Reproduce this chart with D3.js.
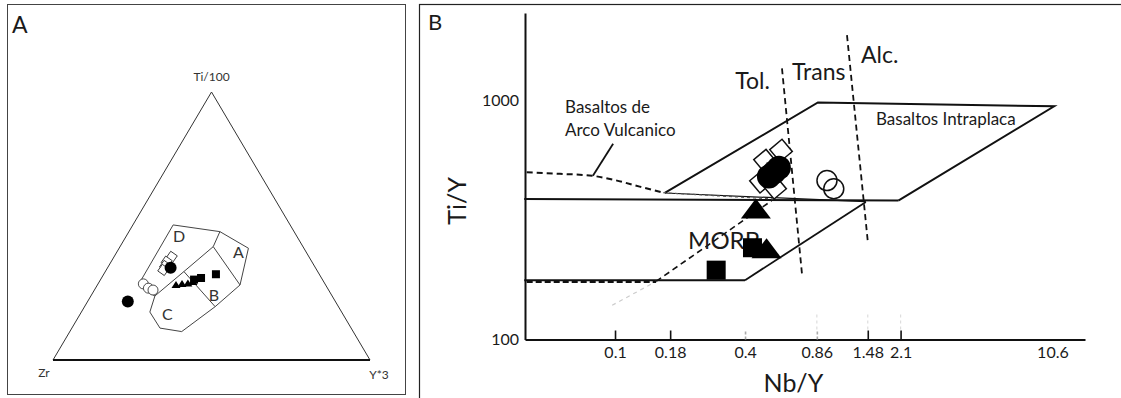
<!DOCTYPE html>
<html lang="en">
<head>
<meta charset="UTF-8">
<title>Ti-Zr-Y y Ti/Y vs Nb/Y</title>
<script src="https://d3js.org/d3.v7.min.js"></script>
<style>
  body { margin: 0; background: #fff; }
  svg { display: block; }
  text { font-family: Lato, "Open Sans", sans-serif; fill: #1a1a1a; }
</style>
</head>
<body>
<div id="chart"></div>
<script>
// ---------- Panel A: ternary Ti/100 - Zr - Y*3, values as [Ti, Zr, Y] in % ----------
const fieldOutline = [
  [50.4, 36.9, 12.7], [47.9, 23.4, 28.7], [41.7, 17.5, 40.8], [28.0, 27.0, 45.0],
  [19.9, 38.9, 41.2], [10.6, 54.1, 35.3], [11.9, 60.3, 27.8], [17.9, 60.5, 21.6],
  [23.9, 55.9, 20.2], [25.4, 57.3, 17.3], [29.1, 58.0, 12.9], [50.4, 36.9, 12.7]
];
const lineDBC = [[23.9, 55.9, 20.2], [33.0, 42.2, 24.8], [42.3, 28.3, 29.4]];
const lineAD = [[42.3, 28.3, 29.4], [47.9, 23.4, 28.7]];
const lineAB = [[42.3, 28.3, 29.4], [28.0, 27.0, 45.0]];
const lineBC = [[33.0, 42.2, 24.8], [19.9, 38.9, 41.2]];
const fieldNames = ["D", "A", "B", "C"];
const fieldLabelPos = [[46.3, 37.1, 16.6], [40.4, 21.3, 38.3], [24.5, 37.0, 38.5], [17.4, 55.2, 27.4]];

const aFilledCircles = [[21.8, 65.5, 12.7], [34.4, 45.7, 19.9]];
const aOpenCircles = [[28.4, 57.3, 14.3], [26.8, 56.5, 16.7], [26.1, 55.4, 18.5]];
const aOpenDiamonds = [[38.5, 43.3, 18.2], [36.7, 45.8, 17.5], [35.1, 47.1, 17.8], [33.6, 48.4, 18.0]];
const aSquares = [[30.6, 38.0, 31.4], [32.0, 32.6, 35.4], [30.0, 40.5, 29.5]];
const aTriangles = [[28.0, 47.2, 24.8], [28.4, 45.1, 26.5], [28.5, 43.2, 28.3], [29.1, 41.3, 29.6]];
const apexLabels = ["Ti/100", "Zr", "Y*3"];

// ---------- Panel B: Ti/Y vs Nb/Y (log-log), points as [Nb/Y, Ti/Y] ----------
const xTicks = [0.1, 0.18, 0.4, 0.86, 1.48, 2.1, 10.6];
const yTicks = [100, 1000];
const upperLine = [[0.038, 387], [2.05, 381]];
const lowerLine = [[0.038, 177], [0.40, 177]];
const intraplaca = [[0.17, 410], [0.87, 980], [10.8, 945], [2.05, 381]];
const intraBase = [[0.17, 410], [1.45, 377]];
const morbRight = [[0.40, 177], [1.45, 376]];
const morbLeft = [[0.155, 175], [0.53, 380]];
const morbGhost = [[0.097, 139], [0.155, 175]];
const arcCurve = [[0.039, 500], [0.0556, 493], [0.0783, 484], [0.098, 466], [0.130, 436], [0.167, 411]];
const arcTail = [[0.167, 411], [0.54, 387]];
const arcBase = [[0.039, 174], [0.155, 174]];
const arcPointer = [[0.079, 484], [0.098, 659]];
const tolLine = [[0.593, 1362], [0.734, 188]];
const alcLine = [[1.186, 1875], [1.483, 253]];

const bFilledCircles = [[0.516, 480], [0.574, 523], [0.545, 500]];
const bOpenDiamonds = [[0.587, 617], [0.495, 560], [0.474, 457], [0.551, 431]];
const bOpenCircles = [[0.958, 462], [1.03, 427]];
const bTriangles = [[0.449, 353], [0.503, 241]];
const bSquares = [[0.433, 242], [0.294, 195]];

const bLabels = [
  { text: "Basaltos de", at: [0.0587, 944], size: 17 },
  { text: "Arco Vulcanico", at: [0.0587, 756], size: 17 },
  { text: "Basaltos Intraplaca", at: [1.616, 836], size: 17 },
  { text: "Tol.", at: [0.36, 1213], size: 23 },
  { text: "Trans", at: [0.66, 1324], size: 23 },
  { text: "Alc.", at: [1.377, 1560], size: 23 },
  { text: "MORB", at: [0.218, 262], size: 24 }
];

const width = 1121, height = 398;

const svg = d3.select("#chart").append("svg")
  .attr("width", width)
  .attr("height", height);

svg.append("rect").attr("width", width).attr("height", height).attr("fill", "#fff");

// ================= Panel A =================
const gA = svg.append("g");
gA.append("rect")
  .attr("x", 7.5).attr("y", 4.5).attr("width", 398).attr("height", 390)
  .attr("fill", "none").attr("stroke", "#444").attr("stroke-width", 1);
gA.append("text").attr("x", 12).attr("y", 33).attr("font-size", 23).text("A");

const T = [211.5, 92], Z = [53, 360], Y = [370, 360];
const tern = d => [
  (Z[0] * d[1] + Y[0] * d[2] + T[0] * d[0]) / 100,
  (Z[1] * d[1] + Y[1] * d[2] + T[1] * d[0]) / 100
];
const tline = d3.line().x(d => tern(d)[0]).y(d => tern(d)[1]);

gA.append("path")
  .attr("d", `M${Z}L${T}L${Y}`)
  .attr("fill", "none").attr("stroke", "#333").attr("stroke-width", 1);
gA.append("line")
  .attr("x1", Z[0]).attr("y1", Z[1]).attr("x2", Y[0]).attr("y2", Y[1])
  .attr("stroke", "#111").attr("stroke-width", 2);

gA.append("text").attr("x", T[0]).attr("y", T[1] - 11).attr("text-anchor", "middle")
  .attr("font-family", "Liberation Sans, Arial, sans-serif").attr("font-size", 12).style("fill", "#333")
  .text(apexLabels[0]);
gA.append("text").attr("x", Z[0] - 9).attr("y", Z[1] + 17).attr("text-anchor", "middle")
  .attr("font-family", "Liberation Sans, Arial, sans-serif").attr("font-size", 12).style("fill", "#333")
  .text(apexLabels[1]);
gA.append("text").attr("x", Y[0] + 9).attr("y", Y[1] + 19).attr("text-anchor", "middle")
  .attr("font-family", "Liberation Sans, Arial, sans-serif").attr("font-size", 12).style("fill", "#333")
  .text(apexLabels[2]);

[fieldOutline, lineDBC, lineAD, lineAB, lineBC].forEach(l => {
  gA.append("path").attr("d", tline(l))
    .attr("fill", "none").attr("stroke", "#444").attr("stroke-width", 1);
});

gA.selectAll(".flab").data(fieldNames).join("text")
  .attr("class", "flab")
  .attr("x", (d, i) => tern(fieldLabelPos[i])[0])
  .attr("y", (d, i) => tern(fieldLabelPos[i])[1])
  .attr("text-anchor", "middle").attr("dominant-baseline", "central")
  .attr("font-size", 16).style("fill", "#333")
  .text(d => d);

gA.selectAll(".aoc").data(aOpenCircles).join("circle")
  .attr("cx", d => tern(d)[0]).attr("cy", d => tern(d)[1]).attr("r", 5)
  .attr("fill", "#fff").attr("stroke", "#222").attr("stroke-width", 0.8);
gA.selectAll(".aod").data(aOpenDiamonds).join("rect")
  .attr("x", -4).attr("y", -4).attr("width", 8).attr("height", 8)
  .attr("transform", d => `translate(${tern(d)}) rotate(35)`)
  .attr("fill", "#fff").attr("stroke", "#222").attr("stroke-width", 0.8);
gA.selectAll(".afc").data(aFilledCircles).join("circle")
  .attr("cx", d => tern(d)[0]).attr("cy", d => tern(d)[1]).attr("r", 6)
  .attr("fill", "#000");
gA.selectAll(".atr").data(aTriangles).join("path")
  .attr("d", "M0,-4L4.5,3L-4.5,3Z")
  .attr("transform", d => `translate(${tern(d)})`)
  .attr("fill", "#000");
gA.selectAll(".asq").data(aSquares).join("rect")
  .attr("x", d => tern(d)[0] - 4).attr("y", d => tern(d)[1] - 4)
  .attr("width", 8).attr("height", 8).attr("fill", "#000");

// ================= Panel B =================
const gB = svg.append("g");
gB.append("rect")
  .attr("x", 419.5).attr("y", 4.5).attr("width", 900).attr("height", 600)
  .attr("fill", "none").attr("stroke", "#222").attr("stroke-width", 1.2);
gB.append("text").attr("x", 428).attr("y", 30).attr("font-size", 22).text("B");

const x = d3.scaleLog().domain([0.0383, 15]).range([525, 1085]);
const y = d3.scaleLog().domain([100, 2320]).range([339.5, 13]);
const line = d3.line().x(d => x(d[0])).y(d => y(d[1]));

// axes
const xAxis = gB.append("g")
  .attr("transform", `translate(0,${y(100)})`)
  .call(d3.axisBottom(x).tickValues(xTicks).tickSize(-9).tickSizeOuter(0).tickPadding(7)
    .tickFormat(d => String(d)));
xAxis.select(".domain").attr("stroke", "#111").attr("stroke-width", 2);
xAxis.selectAll(".tick line")
  .attr("stroke", d => (d === 0.4 || d === 0.86) ? "#aaa" : (d === 10.6 ? "none" : "#111"))
  .attr("stroke-dasharray", d => (d === 0.4 || d === 0.86) ? "3,2" : null)
  .attr("stroke-width", 1.6);
xAxis.selectAll(".tick text")
  .attr("font-family", "Lato, sans-serif").attr("font-size", 16).style("fill", "#1a1a1a");

const yAxis = gB.append("g")
  .attr("transform", `translate(${x(0.0383)},0)`)
  .call(d3.axisLeft(y).tickValues(yTicks).tickSize(0).tickSizeOuter(0).tickPadding(6)
    .tickFormat(d3.format("d")));
yAxis.select(".domain").attr("stroke", "#111").attr("stroke-width", 2);
yAxis.selectAll(".tick text")
  .attr("font-family", "Lato, sans-serif").attr("font-size", 16).style("fill", "#1a1a1a");

gB.append("text")
  .attr("transform", `translate(456,${y(380)}) rotate(-90)`)
  .attr("text-anchor", "middle").attr("dominant-baseline", "central")
  .attr("font-size", 25).text("Ti/Y");
gB.append("text")
  .attr("x", x(0.67)).attr("y", 392)
  .attr("text-anchor", "middle")
  .attr("font-size", 25).text("Nb/Y");

// faint ghost marks above some ticks
gB.selectAll(".ghost").data([0.86, 1.48, 2.1]).join("line")
  .attr("x1", d => x(d)).attr("x2", d => x(d))
  .attr("y1", y(100) - 10).attr("y2", y(100) - 28)
  .attr("stroke", "#ddd").attr("stroke-width", 1.2).attr("stroke-dasharray", "3,3");

// field boundaries
const solid = (data, w) => gB.append("path").attr("d", line(data))
  .attr("fill", "none").attr("stroke", "#111").attr("stroke-width", w);
const dashed = (data, w, dash, col) => gB.append("path").attr("d", line(data))
  .attr("fill", "none").attr("stroke", col || "#111").attr("stroke-width", w)
  .attr("stroke-dasharray", dash);

solid(upperLine, 2);
solid(lowerLine, 2);
solid(intraplaca, 2);
solid(intraBase, 1.2);
solid(morbRight, 1.8);
dashed(morbLeft, 1.6, "6,4");
dashed(morbGhost, 1.2, "4,4", "#ccc");
gB.append("path")
  .attr("d", d3.line().x(d => x(d[0])).y(d => y(d[1])).curve(d3.curveMonotoneX)(arcCurve))
  .attr("fill", "none").attr("stroke", "#111").attr("stroke-width", 2).attr("stroke-dasharray", "6,4");
dashed(arcTail, 1.2, "3,3", "#555");
dashed(arcBase, 2, "6,3");
solid(arcPointer, 1.8);
dashed(tolLine, 1.8, "6,4");
dashed(alcLine, 1.8, "6,4");

// labels
gB.selectAll(".blab").data(bLabels).join("text")
  .attr("class", "blab")
  .attr("x", d => x(d.at[0])).attr("y", d => y(d.at[1]))
  .attr("dominant-baseline", "central")
  .attr("font-size", d => d.size)
  .text(d => d.text);

// samples
gB.selectAll(".bod").data(bOpenDiamonds).join("rect")
  .attr("x", -8).attr("y", -8).attr("width", 16).attr("height", 16)
  .attr("transform", d => `translate(${x(d[0])},${y(d[1])}) rotate(-40)`)
  .attr("fill", "#fff").attr("stroke", "#111").attr("stroke-width", 1.5);
gB.selectAll(".bfc").data(bFilledCircles).join("circle")
  .attr("cx", d => x(d[0])).attr("cy", d => y(d[1])).attr("r", 12)
  .attr("fill", "#000");
gB.selectAll(".boc").data(bOpenCircles).join("circle")
  .attr("cx", d => x(d[0])).attr("cy", d => y(d[1])).attr("r", 10)
  .attr("fill", "none").attr("stroke", "#111").attr("stroke-width", 1.5);
gB.selectAll(".bsq").data(bSquares).join("rect")
  .attr("x", d => x(d[0]) - 9.5).attr("y", d => y(d[1]) - 9.5)
  .attr("width", 19).attr("height", 19).attr("fill", "#000");
gB.selectAll(".btr").data(bTriangles).join("path")
  .attr("d", "M0,-10L15,10L-15,10Z")
  .attr("transform", d => `translate(${x(d[0])},${y(d[1])})`)
  .attr("fill", "#000");
</script>
</body>
</html>
